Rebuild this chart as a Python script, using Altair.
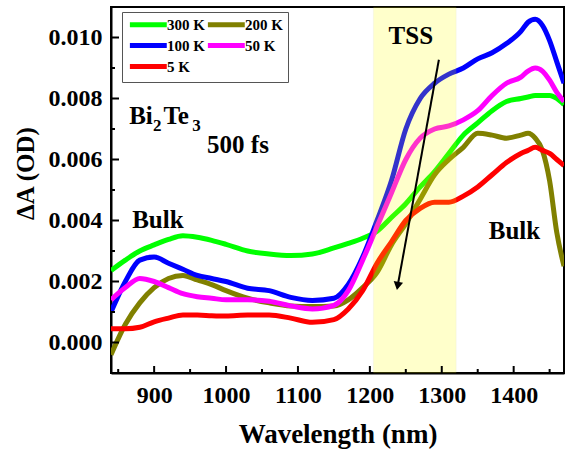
import altair as alt
import pandas as pd

# Transient absorption spectra of Bi2Te3 at 500 fs delay
WAVELENGTH = [840, 860, 880, 900, 920, 940, 960, 980, 1000, 1030, 1060, 1090,
              1120, 1150, 1170, 1190, 1210, 1230, 1250, 1270, 1290, 1310, 1330,
              1350, 1370, 1390, 1410, 1420, 1430, 1440, 1450, 1460, 1470]

DA_300K = [0.00236, 0.0027, 0.0030, 0.0032, 0.00338, 0.0035, 0.00345, 0.00335,
           0.00322, 0.0030, 0.0029, 0.00285, 0.0029, 0.0031, 0.00325, 0.00342,
           0.00365, 0.0041, 0.00455, 0.0051, 0.0056, 0.0062, 0.0068, 0.0072,
           0.0076, 0.0079, 0.0080, 0.00805, 0.0081, 0.0081, 0.0081, 0.0080, 0.0078]
DA_200K = [-0.0004, 0.0006, 0.0013, 0.0018, 0.0021, 0.0022, 0.00205, 0.0019,
           0.0017, 0.00145, 0.0013, 0.0012, 0.00118, 0.0012, 0.0014, 0.0018,
           0.0023, 0.0032, 0.0039, 0.0047, 0.0055, 0.0060, 0.0064, 0.00686,
           0.0068, 0.0067, 0.0068, 0.00686, 0.0067, 0.0063, 0.0053, 0.0036, 0.0025]
DA_100K = [0.0010, 0.0020, 0.0027, 0.0028, 0.0026, 0.0024, 0.0022, 0.0021,
           0.0020, 0.00178, 0.0017, 0.00148, 0.00138, 0.00145, 0.0019, 0.0028,
           0.0040, 0.0053, 0.0070, 0.0080, 0.0085, 0.0088, 0.0090, 0.0093,
           0.0095, 0.0098, 0.0102, 0.0105, 0.0106, 0.0104, 0.0099, 0.0092, 0.0085]
DA_50K = [0.0014, 0.0018, 0.0021, 0.0020, 0.0018, 0.0016, 0.0015, 0.00145,
          0.0014, 0.0014, 0.00135, 0.0012, 0.0011, 0.00122, 0.0017, 0.0027,
          0.0038, 0.0049, 0.0060, 0.0067, 0.0070, 0.0071, 0.0073, 0.0076,
          0.0081, 0.0085, 0.0087, 0.0089, 0.0090, 0.0089, 0.0086, 0.0082, 0.0079]
DA_5K = [0.00045, 0.00045, 0.0005, 0.00068, 0.0008, 0.0009, 0.0009, 0.00088,
         0.00087, 0.0009, 0.0009, 0.0008, 0.00066, 0.00075, 0.0011, 0.0017,
         0.0026, 0.0033, 0.0040, 0.0044, 0.0046, 0.0046, 0.0048, 0.0051,
         0.0055, 0.0059, 0.0062, 0.0063, 0.0064, 0.0063, 0.0062, 0.0060, 0.0058]

SERIES = ["300 K", "200 K", "100 K", "50 K", "5 K"]
COLORS = ["#00ff00", "#808000", "#0000ff", "#ff00ff", "#ff0000"]
# legend fills column by column: 300/100/5 on the left, 200/50 on the right
LEGEND_ORDER = ["300 K", "100 K", "5 K", "200 K", "50 K"]

# Surface-state (TSS) spectral window
TSS_BAND = [1205, 1320]

X_MAJOR = [900, 1000, 1100, 1200, 1300, 1400]
X_MINOR = [850, 950, 1050, 1150, 1250, 1350, 1450]
Y_MAJOR = [0.000, 0.002, 0.004, 0.006, 0.008, 0.010]
Y_MINOR = [0.001, 0.003, 0.005, 0.007, 0.009]

X_DOMAIN = [840, 1470]
Y_DOMAIN = [-0.001, 0.011]

W, H = 453, 366
FONT = "Liberation Serif"

rows = []
for name, vals in zip(SERIES, [DA_300K, DA_200K, DA_100K, DA_50K, DA_5K]):
    for w, v in zip(WAVELENGTH, vals):
        rows.append({"wl": w, "dA": v, "T": name, "order": SERIES.index(name)})
spectra = pd.DataFrame(rows)

xs = alt.Scale(domain=X_DOMAIN, nice=False, zero=False)
ys = alt.Scale(domain=Y_DOMAIN, nice=False, zero=False)

X_AXIS = alt.Axis(
    values=X_MAJOR, title="Wavelength (nm)", ticks=False, format="d",
    labelFont=FONT, labelFontSize=24, labelFontWeight="bold", labelColor="black",
    labelPadding=10, titleFont=FONT, titleFontSize=27, titleFontWeight="bold",
    titleColor="black", titlePadding=14, domainWidth=2, domainColor="black",
    grid=False)
Y_AXIS = alt.Axis(
    values=Y_MAJOR, title="ΔA (OD)", ticks=False, format=".3f",
    labelFont=FONT, labelFontSize=24, labelFontWeight="bold", labelColor="black",
    labelPadding=9, titleFont=FONT, titleFontSize=25, titleFontWeight="bold",
    titleColor="black", titlePadding=10, titleY=166, domainWidth=2,
    domainColor="black", grid=False)


def xq(field):
    return alt.X(field, scale=xs, axis=X_AXIS, title="Wavelength (nm)")


def yq(field):
    return alt.Y(field, scale=ys, axis=Y_AXIS, title="ΔA (OD)")


lines = alt.Chart(spectra).mark_line(strokeWidth=5, interpolate="monotone", clip=True).encode(
    x=xq("wl:Q"),
    y=yq("dA:Q"),
    color=alt.Color("T:N", scale=alt.Scale(
        domain=LEGEND_ORDER, range=[COLORS[SERIES.index(s)] for s in LEGEND_ORDER]),
        legend=alt.Legend(
            title=None, orient="none", legendX=11, legendY=5, columns=2,
            symbolType="M-1,0H7", symbolSize=85, symbolStrokeWidth=5,
            labelFont=FONT, labelFontSize=15, labelFontWeight="bold",
            labelColor="black", labelOffset=25, rowPadding=0,
            columnPadding=-31, padding=5, strokeColor="#555555")),
    order=alt.Order("order:Q"),
)

band_df = pd.DataFrame({"x0": [TSS_BAND[0]], "x1": [TSS_BAND[1]]})
band = alt.Chart(band_df).mark_rect(color="#ffff00", opacity=0.2, stroke="#b0b040",
                                    strokeOpacity=0.35, strokeWidth=1).encode(
    x=xq("x0:Q"), x2="x1:Q", y=alt.value(0), y2=alt.value(H))

# Inward-pointing tick marks
ymaj = alt.Chart(pd.DataFrame({"v": Y_MAJOR})).mark_rule(color="black", strokeWidth=2).encode(
    y=yq("v:Q"), x=alt.value(0), x2=alt.value(8))
ymin = alt.Chart(pd.DataFrame({"v": Y_MINOR})).mark_rule(color="black", strokeWidth=2).encode(
    y=yq("v:Q"), x=alt.value(0), x2=alt.value(4))
xmaj = alt.Chart(pd.DataFrame({"v": X_MAJOR})).mark_rule(color="black", strokeWidth=2).encode(
    x=xq("v:Q"), y=alt.value(H), y2=alt.value(H - 7))
xmin = alt.Chart(pd.DataFrame({"v": X_MINOR})).mark_rule(color="black", strokeWidth=2).encode(
    x=xq("v:Q"), y=alt.value(H), y2=alt.value(H - 4))

# Arrow across the TSS window
arrow_df = pd.DataFrame({"wl": [1296, 1239.0], "dA": [0.00927, 0.0019]})
arrow_line = alt.Chart(arrow_df).mark_line(color="black", strokeWidth=2).encode(
    x=xq("wl:Q"), y=yq("dA:Q"))
arrow_head = alt.Chart(arrow_df.iloc[[1]]).mark_point(
    shape="triangle", filled=True, color="black", opacity=1, size=90, angle=190).encode(
    x=xq("wl:Q"), y=yq("dA:Q"))

big_text = pd.DataFrame({
    "wl": [1226, 865.3, 913.0, 973.6, 869.4, 1365.3],
    "dA": [0.0098, 0.00718, 0.00718, 0.0062, 0.00377, 0.00338],
    "label": ["TSS", "Bi", "Te", "500 fs", "Bulk", "Bulk"],
})
sub_text = pd.DataFrame({
    "wl": [898.5, 953.0],
    "dA": [0.00695, 0.00692],
    "label": ["2", "3"],
})
labels = alt.Chart(big_text).mark_text(
    font=FONT, fontSize=25, fontWeight="bold", color="black", align="left",
    baseline="alphabetic").encode(x=xq("wl:Q"), y=yq("dA:Q"), text="label:N")
subs = alt.Chart(sub_text).mark_text(
    font=FONT, fontSize=17, fontWeight="bold", color="black", align="left",
    baseline="alphabetic").encode(x=xq("wl:Q"), y=yq("dA:Q"), text="label:N")

chart = alt.layer(
    lines, band, ymaj, ymin, xmaj, xmin, arrow_line, arrow_head, labels, subs
).properties(
    width=W, height=H,
    padding={"left": 111, "top": 7, "right": 1, "bottom": 84},
    autosize=alt.AutoSizeParams(type="none"),
).configure(
    background="white", font=FONT
).configure_view(
    stroke="black", strokeWidth=2
).configure_axis(
    labelFont=FONT, titleFont=FONT
).configure_legend(
    labelFont=FONT
)

chart.save("out.html", embed_options={"renderer": "svg", "actions": False})
